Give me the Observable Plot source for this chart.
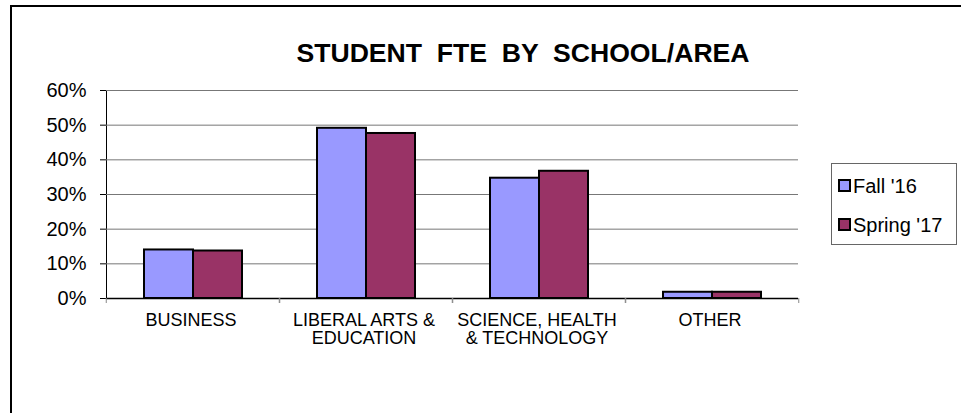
<!DOCTYPE html>
<html>
<head>
<meta charset="utf-8">
<script src="https://cdn.jsdelivr.net/npm/d3@7"></script>
<script src="https://cdn.jsdelivr.net/npm/@observablehq/plot@0.6"></script>
<style>
  html, body { margin: 0; padding: 0; background: #fff; }
  #wrap { position: relative; width: 961px; height: 413px; overflow: hidden; font-family: Arial, "Liberation Sans", sans-serif; }
  #border { position: absolute; left: 10px; top: 5px; width: 1000px; height: 500px; border-left: 2px solid #000; border-top: 2px solid #000; }
  #title { position: absolute; left: 0; width: 1046px; top: 40px; text-align: center; font-weight: bold; font-size: 26.6px; line-height: 26px; white-space: pre; color: #000; }
  #chart { position: absolute; left: 0; top: 0; }
  #legend { position: absolute; left: 831px; top: 163px; width: 124px; height: 80px; border: 1px solid #666; background: #fff; box-sizing: content-box; }
  .item { position: absolute; left: 6px; font-size: 20px; line-height: 20px; white-space: pre; color: #000; }
  .sw { display: inline-block; width: 9px; height: 9px; border: 2px solid #000; margin-right: 2px; vertical-align: 1px; }
</style>
</head>
<body>
<div id="wrap">
  <div id="border"></div>
  <div id="chart"></div>
  <div id="title"></div>
  <div id="legend"></div>
</div>
<script>
const titleText = "STUDENT  FTE  BY  SCHOOL/AREA";
const categories = ["BUSINESS", "LIBERAL ARTS & EDUCATION", "SCIENCE, HEALTH & TECHNOLOGY", "OTHER"];
const tickLabels = ["BUSINESS", "LIBERAL ARTS &\nEDUCATION", "SCIENCE, HEALTH\n& TECHNOLOGY", "OTHER"];
const series = ["Fall '16", "Spring '17"];
const colors = ["#9999FF", "#993366"];
const fall16 = [14.0, 49.1, 34.7, 1.8];
const spring17 = [13.7, 47.6, 36.7, 1.8];
const yTicks = [0, 10, 20, 30, 40, 50, 60];

const values = [fall16, spring17];
const data = [];
categories.forEach((c, i) => series.forEach((s, j) => data.push({category: c, series: s, value: values[j][i]})));

const W = 961, H = 413, ML = 105, MR = 162, MT = 90, MB = 115;
const halfStep = (W - ML - MR) / categories.length / 2;

const chart = Plot.plot({
  width: W,
  height: H,
  marginLeft: ML,
  marginRight: MR,
  marginTop: MT,
  marginBottom: MB,
  facet: {marginTop: 0, marginBottom: 0, marginLeft: 0, marginRight: 0},
  style: {fontFamily: "Arial, 'Liberation Sans', sans-serif", fontSize: "20px", color: "#000", background: "transparent", overflow: "visible"},
  fx: {domain: categories, padding: 0, axis: null},
  x: {domain: series, paddingInner: 0, paddingOuter: 0.735, axis: null},
  y: {domain: [0, 60], ticks: yTicks, tickFormat: d => d + "%", tickSize: 6, tickPadding: 14, label: null, line: true},
  color: {domain: series, range: colors},
  marks: [
    Plot.gridY(yTicks.filter(d => d > 0), {stroke: "#777", strokeOpacity: 1}),
    Plot.barY(data, {fx: "category", x: "series", y: "value", fill: "series", stroke: "#000", strokeWidth: 2}),
    Plot.ruleY([0], {stroke: "#000", strokeWidth: 1.5}),
    Plot.axisFx({anchor: "bottom", tickSize: 0, tickPadding: 14, fontSize: 18, lineHeight: 1.03, label: null, dx: -2,
      tickFormat: d => tickLabels[categories.indexOf(d)]}),
    Plot.axisFx({anchor: "bottom", tickSize: 5, stroke: "#888", tickFormat: () => "", label: null, dx: -halfStep}),
    Plot.axisFx({anchor: "bottom", tickSize: 5, stroke: "#888", tickFormat: () => "", label: null, dx: halfStep})
  ]
});
document.getElementById("chart").appendChild(chart);
document.getElementById("title").textContent = titleText;

const legend = document.getElementById("legend");
series.forEach((s, i) => {
  const it = document.createElement("div");
  it.className = "item";
  it.style.top = (i === 0 ? 12 : 51) + "px";
  const sw = document.createElement("span");
  sw.className = "sw";
  sw.style.background = colors[i];
  it.appendChild(sw);
  it.appendChild(document.createTextNode(s));
  legend.appendChild(it);
});
</script>
</body>
</html>
